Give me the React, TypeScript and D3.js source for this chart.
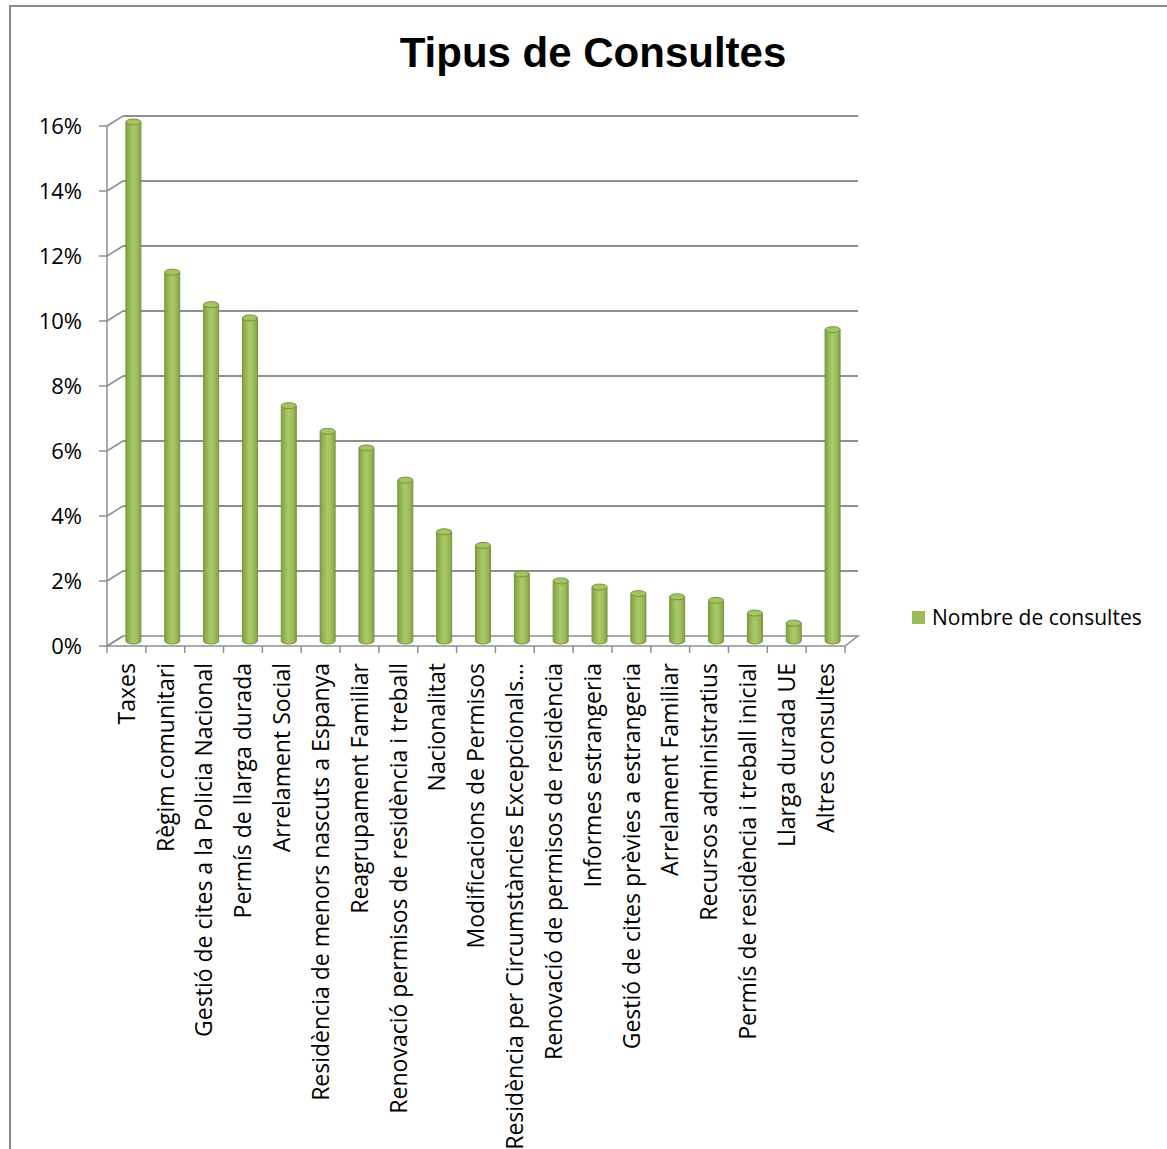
import React from 'react';
import * as d3 from 'd3';

const categories = [
  'Taxes',
  'Règim comunitari',
  'Gestió de cites a la Policia Nacional',
  'Permís de llarga durada',
  'Arrelament Social',
  'Residència de menors nascuts a Espanya',
  'Reagrupament Familiar',
  'Renovació permisos de residència i treball',
  'Nacionalitat',
  'Modificacions de Permisos',
  'Residència per Circumstàncies Excepcionals…',
  'Renovació de permisos de residència',
  'Informes estrangeria',
  'Gestió de cites prèvies a estrangeria',
  'Arrelament Familiar',
  'Recursos administratius',
  'Permís de residència i treball inicial',
  'Llarga durada UE',
  'Altres consultes',
];

// share of consultations
const values = [
  0.1597, 0.1135, 0.1035, 0.0994, 0.0724, 0.0645, 0.0594, 0.0495, 0.0336, 0.0294,
  0.0206, 0.0185, 0.0166, 0.0146, 0.0136, 0.0125, 0.0086, 0.0055, 0.0958,
];

const yTicks = [0, 0.02, 0.04, 0.06, 0.08, 0.1, 0.12, 0.14, 0.16];
const seriesName = 'Nombre de consultes';

const W = 1167;
const H = 1149;
const left = 107;
const right = 845;
const bottom = 646;
const top = 126;
const depth = { dx: 16, dy: -10 };
const barOff = { dx: 7, dy: -5 };
const barW = 15;
const grid = '#8f8f8f';
const font = '"Open Sans", sans-serif';

export default function App() {
  const x = d3.scaleBand<string>().domain(categories).range([left, right]).padding(0);
  const y = d3.scaleLinear().domain([0, 0.16]).range([bottom, top]);
  const fmt = d3.format('.0%');
  const bounds = categories.map((c) => x(c)!).concat([right]);
  const backRight = right + depth.dx - 3;

  return (
    <svg width={W} height={H} style={{ position: 'absolute', left: 0, top: 0, background: '#fff' }}>
      <defs>
        <linearGradient id="cyl" x1="0" x2="1" y1="0" y2="0">
          <stop offset="0" stopColor="#81a142" />
          <stop offset="0.45" stopColor="#a9ca68" />
          <stop offset="0.7" stopColor="#a0c15d" />
          <stop offset="1" stopColor="#84a344" />
        </linearGradient>
      </defs>

      <rect x={10} y={6} width={W + 20} height={H + 20} fill="none" stroke="#8a8a8a" strokeWidth={2} />

      <text x={593} y={67} textAnchor="middle" fontFamily='"Liberation Sans", Arial, sans-serif'
        fontWeight="bold" fontSize={42}>Tipus de Consultes</text>

      {/* back wall gridlines + side diagonals */}
      {yTicks.map((t) => (
        <g key={t}>
          {t > 0 && (
            <line x1={left + depth.dx} x2={backRight} y1={y(t) + depth.dy} y2={y(t) + depth.dy}
              stroke={grid} strokeWidth={2} />
          )}
          <line x1={left} y1={y(t)} x2={left + depth.dx} y2={y(t) + depth.dy} stroke={grid} strokeWidth={1.5} />
          <line x1={left - 8} x2={left} y1={y(t)} y2={y(t)} stroke={grid} strokeWidth={1.5} />
          <text x={82} y={y(t)} dy="0.36em" textAnchor="end" fontFamily={font} fontSize={22}>{fmt(t)}</text>
        </g>
      ))}

      {/* floor */}
      <path
        d={`M${left},${bottom}L${right},${bottom}L${backRight},${bottom + depth.dy}L${left + depth.dx},${bottom + depth.dy}Z`}
        fill="none" stroke={grid} strokeWidth={1.5} />
      <line x1={left} x2={left} y1={top} y2={bottom} stroke={grid} strokeWidth={1.5} />
      {bounds.map((b, i) => (
        <line key={i} x1={b} x2={b} y1={bottom} y2={bottom + 7} stroke={grid} strokeWidth={1.5} />
      ))}

      {/* cylinders */}
      {categories.map((c, i) => {
        const cx = x(c)! + x.bandwidth() / 2 + barOff.dx;
        const y0 = y(0) + barOff.dy;
        const y1 = y(values[i]) + barOff.dy;
        const rx = barW / 2;
        const ry = 3;
        return (
          <g key={c}>
            <path
              d={`M${cx - rx},${y1}L${cx - rx},${y0}A${rx},${ry} 0 0 0 ${cx + rx},${y0}L${cx + rx},${y1}Z`}
              fill="url(#cyl)" stroke="#76933a" strokeWidth={1} />
            <ellipse cx={cx} cy={y1} rx={rx} ry={ry} fill="#a5c563" stroke="#76933a" strokeWidth={1} />
          </g>
        );
      })}

      {/* category labels */}
      {categories.map((c) => {
        const cx = x(c)! + x.bandwidth() / 2;
        return (
          <text key={c} transform={`translate(${cx},663) rotate(-90)`} dy="0.36em" textAnchor="end"
            fontFamily={font} fontSize={23}>{c}</text>
        );
      })}

      {/* legend */}
      <rect x={912} y={611} width={13} height={13} fill="#9bbb59" />
      <text x={932} y={617.5} dy="0.36em" fontFamily={font} fontSize={21}>{seriesName}</text>
    </svg>
  );
}
